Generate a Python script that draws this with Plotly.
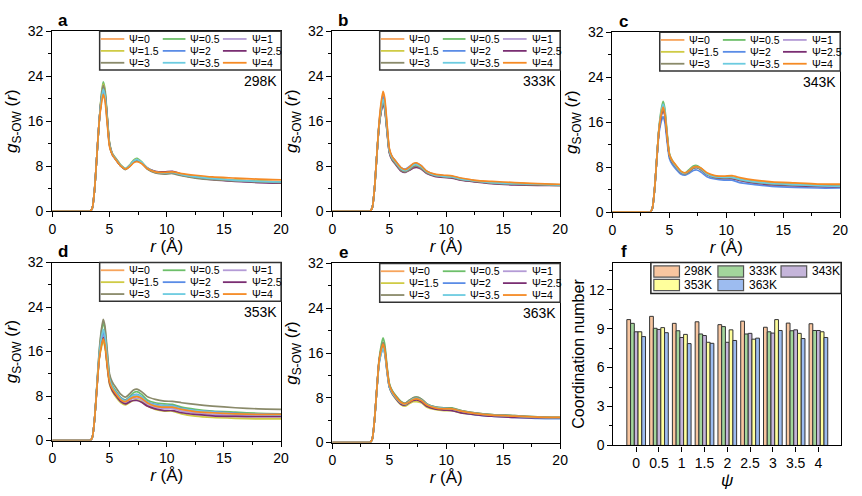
import plotly.graph_objects as go

W, H = 862, 496

# ---------------- data ----------------
R = [0, 3.0, 3.3, 3.5, 3.7, 3.9, 4.1, 4.3, 4.45, 4.6, 4.8, 5.0, 5.25, 5.6, 6.0,
     6.4, 6.8, 7.1, 7.4, 7.8, 8.3, 9.0, 9.8, 10.5, 11.3, 12.5, 14, 16, 18, 20]

PSI = ["0", "0.5", "1", "1.5", "2", "2.5", "3", "3.5", "4"]
PSI_COLORS = ["#F7A45C", "#6DBF6A", "#B49BD6", "#CFCB45", "#5A8CE6",
              "#7A2E72", "#8A8A6A", "#6CCBE0", "#F58A24"]

G_298 = [
    [0,0,0,0.6,4,10,16,20.0,21.8,20.7,16.3,11.8,10.1,9.1,8.0,7.5,8.1,8.8,9.0,8.6,7.6,7.0,6.8,6.9,6.5,6.2,5.9,5.6,5.4,5.3],
    [0,0,0,0.6,4,10,16,21.0,23.0,21.8,17.0,12.2,10.3,9.3,8.2,7.6,8.3,9.1,9.4,8.8,7.7,7.0,6.8,6.9,6.5,6.1,5.8,5.5,5.3,5.2],
    [0,0,0,0.6,4,10,16,20.4,22.2,21.1,16.6,12.0,10.2,9.2,8.1,7.5,8.2,8.9,9.1,8.6,7.6,6.9,6.7,6.8,6.4,6.0,5.7,5.4,5.2,5.1],
    [0,0,0,0.6,4,10,16,20.7,22.6,21.4,16.8,12.1,10.2,9.2,8.1,7.6,8.2,9.0,9.2,8.7,7.6,6.9,6.8,6.8,6.4,6.0,5.7,5.5,5.3,5.2],
    [0,0,0,0.6,4,10,16,19.7,21.4,20.3,16.0,11.7,10.0,9.0,8.0,7.5,8.1,8.8,9.0,8.6,7.6,7.0,6.8,6.9,6.4,6.0,5.7,5.4,5.2,5.1],
    [0,0,0,0.6,4,10,16,20.2,22.0,20.9,16.5,11.9,10.1,9.1,8.0,7.5,8.1,8.8,9.0,8.6,7.7,7.1,7.0,7.1,6.6,6.0,5.6,5.3,5.1,5.0],
    [0,0,0,0.6,4,10,16,20.5,22.4,21.2,16.7,12.0,10.1,9.1,8.0,7.4,8.1,8.9,9.1,8.6,7.5,6.8,6.6,6.7,6.3,5.9,5.6,5.4,5.2,5.1],
    [0,0,0,0.6,4,10,16,20.0,21.7,20.6,16.2,11.8,10.1,9.1,8.1,7.6,8.2,8.9,9.2,8.7,7.7,7.0,6.8,6.9,6.5,6.1,5.8,5.5,5.3,5.2],
    [0,0,0,0.6,4,10,16,19.2,20.8,19.7,15.6,11.5,10.0,9.0,8.0,7.5,8.0,8.6,8.8,8.5,7.6,7.0,6.9,7.0,6.7,6.4,6.1,5.9,5.7,5.6],
]
G_333 = [
    [0,0,0,0.6,4,9.8,15.5,19.2,20.8,19.6,15.2,11.0,9.6,8.7,7.7,7.3,7.8,8.3,8.4,8.0,7.0,6.5,6.3,6.2,5.8,5.5,5.2,5.0,4.8,4.7],
    [0,0,0,0.6,4,9.8,15.3,18.4,19.8,18.7,14.6,10.8,9.5,8.6,7.6,7.2,7.7,8.2,8.4,8.0,7.0,6.4,6.2,6.1,5.7,5.4,5.1,4.9,4.8,4.7],
    [0,0,0,0.6,4,9.8,15.2,18.1,19.5,18.4,14.4,10.6,9.3,8.4,7.4,7.0,7.5,8.0,8.1,7.7,6.8,6.3,6.1,6.0,5.6,5.3,5.0,4.8,4.7,4.6],
    [0,0,0,0.6,4,9.8,15.2,18.2,19.6,18.5,14.5,10.7,9.4,8.5,7.5,7.1,7.6,8.1,8.2,7.8,6.9,6.3,6.1,6.0,5.6,5.3,5.0,4.8,4.7,4.6],
    [0,0,0,0.6,4,9.8,15.4,18.9,20.4,19.2,15.0,11.0,9.7,8.8,7.8,7.5,8.0,8.4,8.5,8.1,7.1,6.5,6.3,6.2,5.8,5.4,5.1,4.9,4.8,4.7],
    [0,0,0,0.6,4,9.8,15.1,17.9,19.2,18.1,14.2,10.4,9.1,8.2,7.2,6.9,7.3,7.7,7.8,7.5,6.7,6.2,6.0,5.9,5.5,5.2,4.9,4.7,4.6,4.6],
    [0,0,0,0.6,4,9.8,15.2,18.0,19.4,18.3,14.3,10.5,9.2,8.3,7.3,7.0,7.4,7.9,8.0,7.6,6.8,6.3,6.1,6.0,5.6,5.3,5.0,4.8,4.7,4.6],
    [0,0,0,0.6,4,9.8,15.3,18.5,19.9,18.8,14.7,10.8,9.5,8.6,7.6,7.2,7.7,8.2,8.3,7.9,7.0,6.4,6.2,6.1,5.7,5.4,5.1,4.9,4.8,4.7],
    [0,0,0,0.6,4,9.9,15.7,19.6,21.3,20.1,15.6,11.2,9.7,8.8,7.8,7.4,7.9,8.5,8.6,8.1,7.1,6.6,6.4,6.3,5.9,5.5,5.3,5.1,4.9,4.8],
]
G_343 = [
    [0,0,0,0.6,4,9.6,15.0,17.8,19.0,17.9,13.8,10.3,9.1,8.1,7.2,6.9,7.4,7.9,8.0,7.6,6.8,6.4,6.3,6.3,5.9,5.5,5.2,5.0,4.9,4.8],
    [0,0,0,0.6,4,9.7,15.2,18.4,19.7,18.5,14.2,10.5,9.2,8.2,7.3,7.0,7.7,8.2,8.3,7.8,6.9,6.4,6.2,6.2,5.8,5.4,5.1,4.9,4.7,4.6],
    [0,0,0,0.6,4,9.6,14.9,17.4,18.5,17.4,13.5,10.1,8.9,8.0,7.1,6.8,7.3,7.8,7.9,7.5,6.7,6.2,6.0,6.0,5.6,5.2,4.9,4.7,4.6,4.5],
    [0,0,0,0.6,4,9.6,15.0,17.6,18.8,17.7,13.7,10.2,9.0,8.1,7.2,6.9,7.4,7.9,8.0,7.6,6.8,6.3,6.1,6.1,5.7,5.3,5.0,4.8,4.7,4.6],
    [0,0,0,0.6,4,9.4,14.2,16.2,17.0,16.0,12.6,9.6,8.5,7.6,6.8,6.6,7.0,7.4,7.5,7.1,6.3,5.9,5.7,5.7,5.2,4.9,4.6,4.4,4.3,4.3],
    [0,0,0,0.6,4,9.6,14.8,17.2,18.3,17.2,13.4,10.1,8.9,8.0,7.1,6.9,7.4,7.9,8.0,7.6,6.7,6.2,6.0,6.0,5.6,5.2,4.9,4.7,4.6,4.5],
    [0,0,0,0.6,4,9.6,14.9,17.5,18.6,17.5,13.6,10.1,8.9,8.0,7.1,6.8,7.3,7.8,7.9,7.5,6.7,6.2,6.1,6.1,5.7,5.3,5.0,4.8,4.7,4.6],
    [0,0,0,0.6,4,9.7,15.1,18.0,19.2,18.1,13.9,10.3,9.1,8.1,7.2,6.9,7.5,8.0,8.1,7.7,6.8,6.3,6.2,6.2,5.8,5.4,5.1,4.9,4.7,4.6],
    [0,0,0,0.6,4,9.6,14.9,17.6,18.7,17.6,13.7,10.3,9.2,8.3,7.3,7.0,7.5,8.0,8.1,7.8,7.0,6.5,6.4,6.5,6.1,5.7,5.4,5.2,5.0,5.0],
]
G_353 = [
    [0,0,0,0.6,4,9.6,15.0,17.8,19.0,17.9,14.0,10.8,9.4,8.4,7.4,7.0,7.6,7.9,8.0,7.6,6.8,6.3,6.1,6.1,5.6,5.3,5.0,4.8,4.7,4.6],
    [0,0,0,0.6,4,9.9,15.8,19.6,21.2,20.0,15.6,11.6,9.9,8.8,7.7,7.3,8.0,8.6,8.8,8.3,7.3,6.8,6.6,6.5,6.0,5.6,5.3,5.1,4.9,4.8],
    [0,0,0,0.6,4,9.6,14.9,17.6,18.8,17.7,13.8,10.6,9.2,8.2,7.2,6.8,7.3,7.6,7.6,7.3,6.5,6.0,5.8,5.8,5.3,5.0,4.7,4.5,4.4,4.4],
    [0,0,0,0.6,4,9.5,14.6,16.8,17.8,16.8,13.2,10.1,8.8,7.7,6.8,6.4,6.9,7.2,7.3,7.0,6.2,5.6,5.3,5.3,4.8,4.4,4.15,4.0,3.9,3.9],
    [0,0,0,0.6,4,9.7,15.2,18.3,19.6,18.5,14.4,11.0,9.6,8.6,7.6,7.2,7.8,8.2,8.3,7.9,7.0,6.5,6.3,6.3,5.8,5.4,5.2,4.9,4.8,4.7],
    [0,0,0,0.6,4,9.6,14.8,17.4,18.5,17.4,13.6,10.4,9.0,8.0,7.0,6.6,7.0,7.2,7.2,6.9,6.2,5.7,5.4,5.4,5.0,4.7,4.45,4.35,4.3,4.3],
    [0,0,0,0.6,4,10.0,16.1,20.1,21.8,20.6,16.2,12.0,10.5,9.4,8.3,7.8,8.5,9.1,9.25,8.8,7.9,7.4,7.1,7.05,6.8,6.5,6.2,5.9,5.7,5.6],
    [0,0,0,0.6,4,9.8,15.3,18.6,20.0,18.9,14.7,11.1,9.6,8.5,7.5,7.1,7.7,8.1,8.2,7.8,6.9,6.4,6.2,6.2,5.7,5.4,5.1,4.8,4.7,4.6],
    [0,0,0,0.6,4,9.5,14.7,17.2,18.3,17.3,13.6,10.6,9.3,8.3,7.3,7.0,7.5,7.8,7.9,7.6,6.8,6.2,6.0,6.0,5.6,5.2,5.0,4.8,4.7,4.7],
]
G_363 = [
    [0,0,0,0.6,4,9.4,14.5,16.8,17.8,16.8,13.2,10.3,9.1,8.1,7.2,6.9,7.4,7.7,7.8,7.5,6.7,6.2,6.0,6.0,5.6,5.2,4.9,4.7,4.5,4.45],
    [0,0,0,0.6,4,9.5,14.8,17.5,18.7,17.6,13.7,10.6,9.3,8.3,7.4,7.0,7.6,8.0,8.1,7.8,6.9,6.4,6.2,6.2,5.7,5.3,5.0,4.8,4.6,4.5],
    [0,0,0,0.6,4,9.4,14.4,16.6,17.5,16.5,13.0,10.2,9.0,8.0,7.1,6.8,7.3,7.6,7.7,7.4,6.6,6.1,5.9,5.9,5.5,5.1,4.9,4.7,4.5,4.4],
    [0,0,0,0.6,4,9.4,14.3,16.4,17.3,16.3,12.8,9.9,8.7,7.7,6.8,6.5,7.0,7.3,7.3,7.1,6.3,5.9,5.7,5.7,5.3,5.0,4.8,4.6,4.5,4.4],
    [0,0,0,0.6,4,9.3,14.1,16.0,16.8,15.9,12.6,9.9,8.8,7.9,7.0,6.8,7.3,7.6,7.7,7.4,6.6,6.1,5.9,5.8,5.4,5.0,4.7,4.5,4.3,4.25],
    [0,0,0,0.6,4,9.4,14.4,16.5,17.4,16.4,12.9,10.0,8.8,7.8,6.9,6.7,7.2,7.5,7.6,7.3,6.5,6.0,5.8,5.7,5.3,5.0,4.7,4.5,4.4,4.35],
    [0,0,0,0.6,4,9.4,14.6,16.9,17.9,16.9,13.3,10.4,9.2,8.2,7.3,7.0,7.6,8.0,8.1,7.8,6.9,6.4,6.2,6.1,5.7,5.3,5.0,4.8,4.6,4.5],
    [0,0,0,0.6,4,9.3,14.1,16.1,16.9,16.0,12.7,10.0,8.9,7.9,7.1,6.8,7.4,7.8,7.9,7.6,6.8,6.3,6.1,6.0,5.6,5.2,4.9,4.7,4.5,4.45],
    [0,0,0,0.6,4,9.4,14.5,16.7,17.6,16.6,13.1,10.3,9.1,8.1,7.2,6.9,7.3,7.7,7.8,7.5,6.7,6.2,6.0,6.0,5.6,5.2,4.9,4.7,4.55,4.5],
]

TEMPS = ["298K", "333K", "343K", "353K", "363K"]
G_ALL = [G_298, G_333, G_343, G_353, G_363]
PANEL_LETTERS = ["a", "b", "c", "d", "e", "f"]

CN_298 = [9.70, 9.95, 9.41, 9.53, 9.31, 9.58, 9.11, 9.43, 9.38]
CN_333 = [9.41, 9.03, 8.84, 8.59, 9.16, 8.59, 8.76, 8.84, 8.86]
CN_343 = [8.76, 8.94, 8.32, 8.47, 7.95, 8.64, 8.66, 8.91, 8.86]
CN_353 = [8.76, 9.08, 8.56, 7.95, 8.91, 8.19, 9.70, 8.64, 8.76]
CN_363 = [8.39, 8.69, 7.85, 7.87, 8.09, 8.27, 8.86, 8.24, 8.32]
CN_ALL = [CN_298, CN_333, CN_343, CN_353, CN_363]
BAR_COLORS = ["#F8C6A0", "#A3D69C", "#C5B5DA", "#FFFF9C", "#9DBCF0"]

for g in G_ALL:
    for s in g:
        assert len(s) == len(R)

# ---------------- layout geometry (pixels) ----------------
FONT = "Liberation Sans, Arial, sans-serif"
# (x0, x1, y0, y1) plot boxes in pixels
BOXES = [(49, 281, 24, 210), (333, 564, 24, 210), (617, 848, 25, 211),
         (49, 281, 263, 447), (333, 564, 264, 449), (618, 849, 263, 452)]


def fx(px):
    return px / W


def fy(py):
    return 1 - py / H


fig = go.Figure()
layout = dict(
    width=W, height=H, margin=dict(l=0, r=0, t=0, b=0),
    paper_bgcolor="white", plot_bgcolor="white", showlegend=False,
    font=dict(family=FONT, color="black", size=14),
    barmode="group", bargap=0.18, bargroupgap=0.0,
)
shapes = []
annotations = []

axis_common = dict(showline=True, linecolor="black", linewidth=1.2, mirror=True,
                   ticks="outside", ticklen=5, tickwidth=1.2, tickcolor="black",
                   showgrid=False, zeroline=False,
                   tickfont=dict(family=FONT, size=14, color="black"))

for i in range(6):
    n = i + 1
    x0, x1, y0, y1 = BOXES[i]
    xa = dict(axis_common, domain=[fx(x0), fx(x1)], anchor=f"y{n}")
    ya = dict(axis_common, domain=[fy(y1), fy(y0)], anchor=f"x{n}")
    if i < 5:
        xa.update(range=[0, 20], tick0=0, dtick=5,
                  minor=dict(ticks="outside", ticklen=3, dtick=2.5, tickcolor="black"),
                  title=dict(text="<i>r</i> (Å)", font=dict(size=17), standoff=2))
        ya.update(range=[0, 32], tick0=0, dtick=8,
                  minor=dict(ticks="outside", ticklen=3, dtick=4, tickcolor="black"),
                  title=dict(text="<i>g</i><sub>S-OW</sub> (<i>r</i>)", font=dict(size=17), standoff=5))
    else:
        xa.update(range=[-1, 9], tickmode="array", tickvals=list(range(len(PSI))), ticktext=PSI,
                  title=dict(text="<i>ψ</i>", font=dict(size=17), standoff=2))
        ya.update(range=[0, 14.1], tick0=0, dtick=3,
                  minor=dict(ticks="outside", ticklen=3, dtick=1.5, tickcolor="black"),
                  title=dict(text="Coordination number", font=dict(size=16), standoff=0))
    layout["xaxis" if n == 1 else f"xaxis{n}"] = xa
    layout["yaxis" if n == 1 else f"yaxis{n}"] = ya

    # panel letter
    annotations.append(dict(x=fx(x0 + 11), y=fy(y0 - 11), xref="paper", yref="paper",
                            text=f"<b>{PANEL_LETTERS[i]}</b>", showarrow=False,
                            xanchor="center", yanchor="middle",
                            font=dict(size=17, family=FONT, color="black")))

# ---------------- RDF traces ----------------
COL_LINE = [(49, 73), (112, 135), (173, 197)]
COL_TEXT = [76, 138, 200]
ROW_Y = [8, 20.3, 32.6]

for p in range(5):
    n = p + 1
    xr = "x" if n == 1 else f"x{n}"
    yr = "y" if n == 1 else f"y{n}"
    for k, psi in enumerate(PSI):
        fig.add_trace(go.Scatter(
            x=R, y=G_ALL[p][k], mode="lines", name=f"Ψ={psi}",
            line=dict(color=PSI_COLORS[k], width=1.7, shape="spline", smoothing=0.6),
            xaxis=xr, yaxis=yr, showlegend=False))
    x0, x1, y0, y1 = BOXES[p]
    # legend box
    shapes.append(dict(type="rect", xref="paper", yref="paper",
                       x0=fx(x0 + 48), x1=fx(x1), y0=fy(y0), y1=fy(y0 + 40),
                       line=dict(color="#333333", width=1.5), fillcolor="white", layer="above"))
    for k, psi in enumerate(PSI):
        c, r = k % 3, k // 3
        yy = fy(y0 + ROW_Y[r])
        shapes.append(dict(type="line", xref="paper", yref="paper",
                           x0=fx(x0 + COL_LINE[c][0]), x1=fx(x0 + COL_LINE[c][1]), y0=yy, y1=yy,
                           line=dict(color=PSI_COLORS[k], width=1.8), layer="above"))
        annotations.append(dict(x=fx(x0 + COL_TEXT[c]), y=yy, xref="paper", yref="paper",
                                text=f"Ψ={psi}", showarrow=False, xanchor="left", yanchor="middle",
                                font=dict(size=10.5, family=FONT, color="black")))
    # temperature label
    annotations.append(dict(x=fx(x1 - 2), y=fy(y0 + 51), xref="paper", yref="paper",
                            text=TEMPS[p], showarrow=False, xanchor="right", yanchor="middle",
                            font=dict(size=14, family=FONT, color="black")))

# ---------------- coordination-number bars ----------------
for t in range(5):
    fig.add_trace(go.Bar(
        x=list(range(len(PSI))), y=CN_ALL[t], name=TEMPS[t],
        marker=dict(color=BAR_COLORS[t], line=dict(color="#333333", width=1)),
        xaxis="x6", yaxis="y6", showlegend=False))

fx0, fx1, fy0, fy1 = BOXES[5]
shapes.append(dict(type="rect", xref="paper", yref="paper",
                   x0=fx(656), x1=fx(fx1), y0=fy(fy0), y1=fy(295),
                   line=dict(color="#222222", width=1.5), fillcolor="white", layer="above"))
F_COLS = [(659, 685, 688), (724, 750, 753), (788, 814, 817)]
F_ROWS = [(266.5, 278), (280.5, 292)]
for t in range(5):
    c, r = t % 3, t // 3
    px0, px1, tx = F_COLS[c]
    ry0, ry1 = F_ROWS[r]
    shapes.append(dict(type="rect", xref="paper", yref="paper",
                       x0=fx(px0), x1=fx(px1), y0=fy(ry1), y1=fy(ry0),
                       line=dict(color="#555555", width=1.2), fillcolor=BAR_COLORS[t], layer="above"))
    annotations.append(dict(x=fx(tx), y=fy((ry0 + ry1) / 2), xref="paper", yref="paper",
                            text=TEMPS[t], showarrow=False, xanchor="left", yanchor="middle",
                            font=dict(size=12, family=FONT, color="black")))

layout["shapes"] = shapes
layout["annotations"] = annotations
fig.update_layout(**layout)
fig.write_html("out.html")
